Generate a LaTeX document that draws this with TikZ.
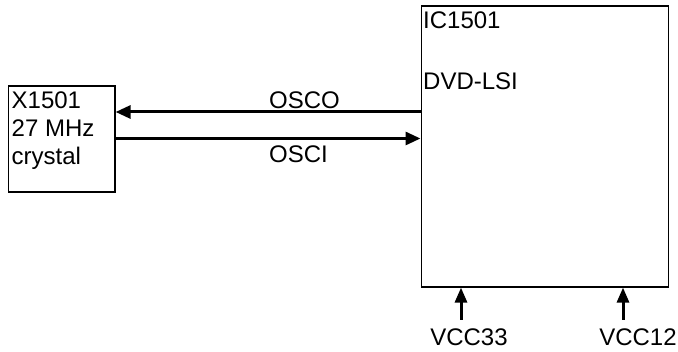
\documentclass[tikz,border=0pt]{standalone}
\usepackage{fontspec}
\setmainfont{Liberation Sans}
\usetikzlibrary{arrows.meta}

\begin{document}
\begin{tikzpicture}[
    x=1pt,
    y=-1pt,
    every node/.style={font=\fontsize{24}{28}\selectfont, inner sep=0pt},
    block/.style={draw=black, line width=1.6pt, anchor=north west},
    txt/.style={anchor=base west},
    sig/.style={-{Triangle[length=15pt, width=13pt]}, line width=3pt},
    pwr/.style={-{Triangle[length=15pt, width=12pt]}, line width=3pt}
  ]
    \useasboundingbox (0,0) rectangle (678,352);

    \node[block, minimum width=106.5pt, minimum height=106.5pt] (xtal) at (7.5,85) {};
    \node[block, minimum width=247pt, minimum height=280.5pt] (ic) at (420.5,5.5) {};

    \node[txt] (xtalref) at (11.5,108.3) {X1501};
    \node[txt] (xtalfreq) at (11.5,136.7) {27 MHz};
    \node[txt] (xtaltype) at (11.5,165) {crystal};
    \node[txt] (icname) at (423,28.3) {IC1501};
    \node[txt] (ictype) at (423,90) {DVD-LSI};

    \coordinate (osco) at (0,112);
    \coordinate (osci) at (0,138.5);
    \draw[sig] (ic.west |- osco) -- (xtal.east |- osco);
    \draw[sig] (xtal.east |- osci) -- (ic.west |- osci);
    \node[anchor=base] (oscolbl) at (304.5,108.3) {OSCO};
    \node[anchor=base] (oscilbl) at (298.5,162.7) {OSCI};

    \foreach \x/\lx/\name in {461/469/VCC33, 623/638/VCC12} {
      \node[anchor=base] (\name) at (\lx,345.7) {\name};
      \coordinate (\name-tail) at (\x,320);
      \draw[pwr] (\name-tail) -- (\name-tail |- ic.south);
    }
  \end{tikzpicture}
\end{document}
